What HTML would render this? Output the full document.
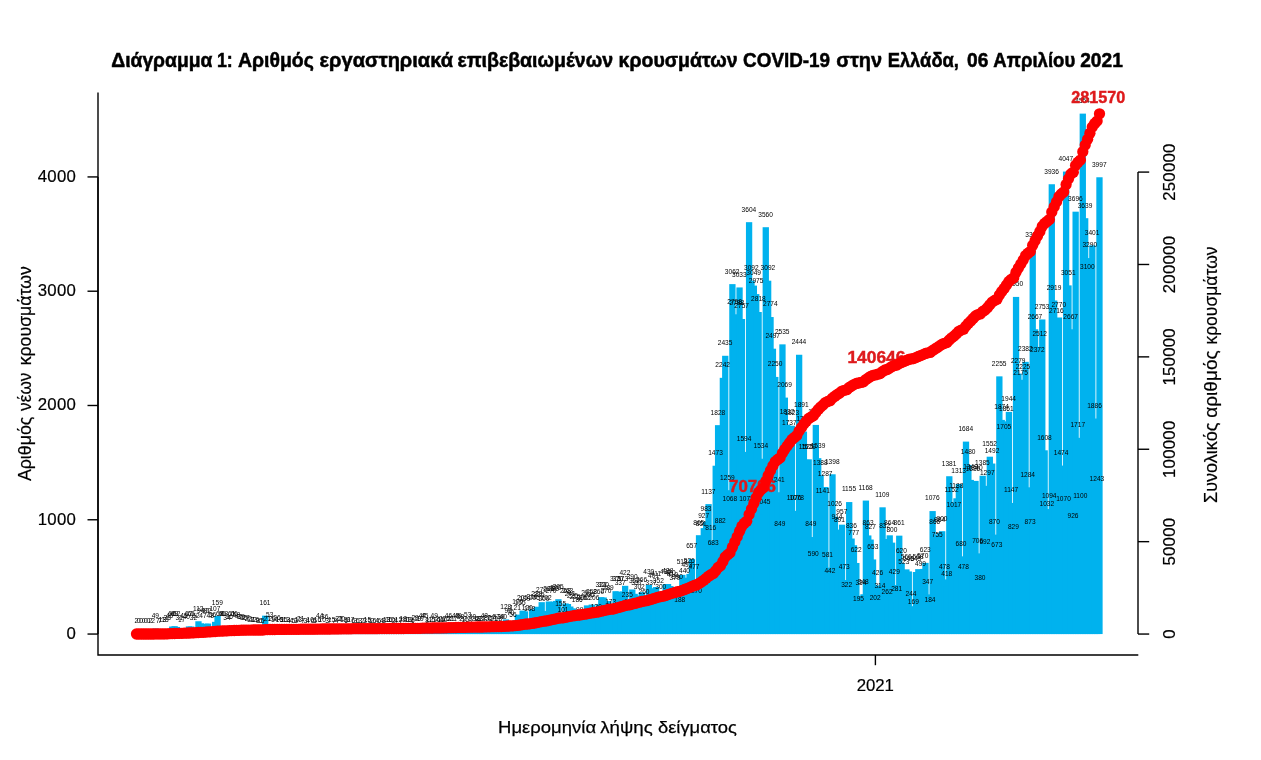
<!DOCTYPE html>
<html lang="el"><head><meta charset="utf-8"><title>Διάγραμμα 1</title>
<style>html,body{margin:0;padding:0;background:#fff;overflow:hidden}svg{display:block}text{font-family:"Liberation Sans",sans-serif;fill:#000}.t{font-size:7.2px;text-anchor:middle;fill:#161616}.ax{font-size:16.8px}.tt{font-size:17px;stroke:#000;stroke-width:0.25px}.tr{font-size:18.2px;stroke:#000;stroke-width:0.2px}.ax{stroke:#000;stroke-width:0.2px}.r{font-weight:bold;fill:#de1a1c;stroke:#de1a1c;stroke-width:0.45px;font-size:16.6px;text-anchor:middle}</style></head><body>
<svg width="1261" height="760" viewBox="0 0 1261 760">
<rect width="1261" height="760" fill="#fff"/>
<text y="66.7" font-size="19.4" font-weight="bold" stroke="#000" stroke-width="0.5"><tspan x="111.3" textLength="101.1" lengthAdjust="spacingAndGlyphs">Διάγραμμα</tspan> <tspan x="216.9" textLength="15.8" lengthAdjust="spacingAndGlyphs">1:</tspan> <tspan x="237.9" textLength="76.0" lengthAdjust="spacingAndGlyphs">Αριθμός</tspan> <tspan x="319.6" textLength="133.4" lengthAdjust="spacingAndGlyphs">εργαστηριακά</tspan> <tspan x="457.4" textLength="155.6" lengthAdjust="spacingAndGlyphs">επιβεβαιωμένων</tspan> <tspan x="618.6" textLength="118.9" lengthAdjust="spacingAndGlyphs">κρουσμάτων</tspan> <tspan x="743.1" textLength="87.0" lengthAdjust="spacingAndGlyphs">COVID-19</tspan> <tspan x="836.3" textLength="45.8" lengthAdjust="spacingAndGlyphs">στην</tspan> <tspan x="887.7" textLength="71.2" lengthAdjust="spacingAndGlyphs">Ελλάδα,</tspan> <tspan x="967.0" textLength="21.3" lengthAdjust="spacingAndGlyphs">06</tspan> <tspan x="993.3" textLength="81.9" lengthAdjust="spacingAndGlyphs">Απριλίου</tspan> <tspan x="1080.2" textLength="42.6" lengthAdjust="spacingAndGlyphs">2021</tspan></text>
<g fill="#00b2ee" shape-rendering="auto">
<rect x="133.35" y="633.82" width="6.30" height="0.23"/>
<rect x="147.65" y="633.82" width="6.30" height="0.23"/>
<rect x="150.04" y="633.82" width="6.30" height="0.23"/>
<rect x="152.42" y="628.45" width="6.30" height="5.60"/>
<rect x="154.80" y="633.25" width="6.30" height="0.80"/>
<rect x="157.19" y="633.25" width="6.30" height="0.80"/>
<rect x="159.57" y="632.56" width="6.30" height="1.49"/>
<rect x="161.95" y="632.56" width="6.30" height="1.49"/>
<rect x="164.34" y="630.28" width="6.30" height="3.77"/>
<rect x="166.72" y="628.91" width="6.30" height="5.14"/>
<rect x="169.10" y="626.51" width="6.30" height="7.54"/>
<rect x="171.49" y="626.16" width="6.30" height="7.89"/>
<rect x="173.87" y="626.96" width="6.30" height="7.09"/>
<rect x="176.25" y="630.51" width="6.30" height="3.54"/>
<rect x="178.64" y="632.11" width="6.30" height="1.94"/>
<rect x="181.02" y="628.91" width="6.30" height="5.14"/>
<rect x="183.41" y="629.48" width="6.30" height="4.57"/>
<rect x="185.79" y="626.39" width="6.30" height="7.66"/>
<rect x="188.17" y="626.51" width="6.30" height="7.54"/>
<rect x="190.56" y="630.39" width="6.30" height="3.66"/>
<rect x="192.94" y="628.11" width="6.30" height="5.94"/>
<rect x="195.32" y="621.25" width="6.30" height="12.80"/>
<rect x="197.71" y="623.31" width="6.30" height="10.74"/>
<rect x="200.09" y="628.68" width="6.30" height="5.37"/>
<rect x="202.47" y="623.76" width="6.30" height="10.29"/>
<rect x="204.86" y="623.54" width="6.30" height="10.51"/>
<rect x="207.24" y="628.56" width="6.30" height="5.49"/>
<rect x="209.63" y="627.65" width="6.30" height="6.40"/>
<rect x="212.01" y="621.82" width="6.30" height="12.23"/>
<rect x="214.39" y="615.88" width="6.30" height="18.17"/>
<rect x="216.78" y="626.28" width="6.30" height="7.77"/>
<rect x="219.16" y="626.51" width="6.30" height="7.54"/>
<rect x="221.54" y="626.28" width="6.30" height="7.77"/>
<rect x="223.93" y="630.16" width="6.30" height="3.89"/>
<rect x="226.31" y="629.94" width="6.30" height="4.11"/>
<rect x="228.69" y="627.08" width="6.30" height="6.97"/>
<rect x="231.08" y="626.51" width="6.30" height="7.54"/>
<rect x="233.46" y="627.42" width="6.30" height="6.63"/>
<rect x="235.84" y="629.25" width="6.30" height="4.80"/>
<rect x="238.23" y="629.59" width="6.30" height="4.46"/>
<rect x="240.61" y="630.62" width="6.30" height="3.43"/>
<rect x="243.00" y="630.96" width="6.30" height="3.09"/>
<rect x="245.38" y="631.54" width="6.30" height="2.51"/>
<rect x="247.76" y="632.11" width="6.30" height="1.94"/>
<rect x="250.15" y="632.68" width="6.30" height="1.37"/>
<rect x="252.53" y="632.22" width="6.30" height="1.83"/>
<rect x="254.91" y="633.14" width="6.30" height="0.91"/>
<rect x="257.30" y="633.36" width="6.30" height="0.69"/>
<rect x="259.68" y="633.48" width="6.30" height="0.57"/>
<rect x="262.06" y="615.65" width="6.30" height="18.40"/>
<rect x="264.45" y="631.65" width="6.30" height="2.40"/>
<rect x="266.83" y="627.99" width="6.30" height="6.06"/>
<rect x="269.22" y="631.76" width="6.30" height="2.29"/>
<rect x="271.60" y="632.45" width="6.30" height="1.60"/>
<rect x="273.98" y="631.08" width="6.30" height="2.97"/>
<rect x="276.37" y="632.22" width="6.30" height="1.83"/>
<rect x="278.75" y="633.02" width="6.30" height="1.03"/>
<rect x="281.13" y="632.34" width="6.30" height="1.71"/>
<rect x="283.52" y="632.56" width="6.30" height="1.49"/>
<rect x="285.90" y="633.59" width="6.30" height="0.46"/>
<rect x="288.28" y="633.59" width="6.30" height="0.46"/>
<rect x="290.67" y="633.48" width="6.30" height="0.57"/>
<rect x="293.05" y="633.71" width="6.30" height="0.34"/>
<rect x="295.43" y="632.56" width="6.30" height="1.49"/>
<rect x="297.82" y="631.65" width="6.30" height="2.40"/>
<rect x="300.20" y="633.25" width="6.30" height="0.80"/>
<rect x="302.59" y="633.71" width="6.30" height="0.34"/>
<rect x="304.97" y="633.59" width="6.30" height="0.46"/>
<rect x="307.35" y="632.91" width="6.30" height="1.14"/>
<rect x="309.74" y="633.36" width="6.30" height="0.69"/>
<rect x="312.12" y="633.48" width="6.30" height="0.57"/>
<rect x="314.50" y="632.22" width="6.30" height="1.83"/>
<rect x="316.89" y="629.02" width="6.30" height="5.03"/>
<rect x="319.27" y="632.91" width="6.30" height="1.14"/>
<rect x="321.65" y="629.94" width="6.30" height="4.11"/>
<rect x="324.04" y="633.71" width="6.30" height="0.34"/>
<rect x="326.42" y="633.25" width="6.30" height="0.80"/>
<rect x="328.81" y="632.34" width="6.30" height="1.71"/>
<rect x="331.19" y="633.25" width="6.30" height="0.80"/>
<rect x="333.57" y="633.59" width="6.30" height="0.46"/>
<rect x="335.96" y="631.54" width="6.30" height="2.51"/>
<rect x="338.34" y="631.76" width="6.30" height="2.29"/>
<rect x="340.72" y="632.56" width="6.30" height="1.49"/>
<rect x="343.11" y="633.36" width="6.30" height="0.69"/>
<rect x="345.49" y="633.02" width="6.30" height="1.03"/>
<rect x="347.87" y="632.11" width="6.30" height="1.94"/>
<rect x="350.26" y="633.36" width="6.30" height="0.69"/>
<rect x="352.64" y="633.71" width="6.30" height="0.34"/>
<rect x="355.02" y="633.36" width="6.30" height="0.69"/>
<rect x="357.41" y="633.71" width="6.30" height="0.34"/>
<rect x="359.79" y="633.82" width="6.30" height="0.23"/>
<rect x="362.18" y="633.71" width="6.30" height="0.34"/>
<rect x="364.56" y="632.34" width="6.30" height="1.71"/>
<rect x="366.94" y="633.48" width="6.30" height="0.57"/>
<rect x="369.33" y="633.82" width="6.30" height="0.23"/>
<rect x="371.71" y="633.36" width="6.30" height="0.69"/>
<rect x="374.09" y="633.59" width="6.30" height="0.46"/>
<rect x="376.48" y="633.36" width="6.30" height="0.69"/>
<rect x="378.86" y="633.59" width="6.30" height="0.46"/>
<rect x="381.24" y="633.14" width="6.30" height="0.91"/>
<rect x="383.63" y="632.56" width="6.30" height="1.49"/>
<rect x="386.01" y="632.22" width="6.30" height="1.83"/>
<rect x="388.40" y="632.91" width="6.30" height="1.14"/>
<rect x="390.78" y="633.82" width="6.30" height="0.23"/>
<rect x="393.16" y="633.59" width="6.30" height="0.46"/>
<rect x="395.55" y="632.68" width="6.30" height="1.37"/>
<rect x="397.93" y="633.25" width="6.30" height="0.80"/>
<rect x="400.31" y="631.99" width="6.30" height="2.06"/>
<rect x="402.70" y="632.91" width="6.30" height="1.14"/>
<rect x="405.08" y="632.56" width="6.30" height="1.49"/>
<rect x="407.46" y="632.79" width="6.30" height="1.26"/>
<rect x="409.85" y="633.36" width="6.30" height="0.69"/>
<rect x="412.23" y="630.74" width="6.30" height="3.31"/>
<rect x="414.61" y="631.88" width="6.30" height="2.17"/>
<rect x="417.00" y="631.88" width="6.30" height="2.17"/>
<rect x="419.38" y="629.02" width="6.30" height="5.03"/>
<rect x="421.77" y="628.91" width="6.30" height="5.14"/>
<rect x="424.15" y="633.14" width="6.30" height="0.91"/>
<rect x="426.53" y="632.68" width="6.30" height="1.37"/>
<rect x="428.92" y="632.34" width="6.30" height="1.71"/>
<rect x="431.30" y="628.45" width="6.30" height="5.60"/>
<rect x="433.68" y="632.22" width="6.30" height="1.83"/>
<rect x="436.07" y="631.54" width="6.30" height="2.51"/>
<rect x="438.45" y="632.22" width="6.30" height="1.83"/>
<rect x="440.83" y="632.91" width="6.30" height="1.14"/>
<rect x="443.22" y="631.19" width="6.30" height="2.86"/>
<rect x="445.60" y="628.79" width="6.30" height="5.26"/>
<rect x="447.99" y="631.65" width="6.30" height="2.40"/>
<rect x="450.37" y="631.65" width="6.30" height="2.40"/>
<rect x="452.75" y="628.56" width="6.30" height="5.49"/>
<rect x="455.14" y="628.45" width="6.30" height="5.60"/>
<rect x="457.52" y="629.71" width="6.30" height="4.34"/>
<rect x="459.90" y="631.54" width="6.30" height="2.51"/>
<rect x="462.29" y="632.22" width="6.30" height="1.83"/>
<rect x="464.67" y="627.99" width="6.30" height="6.06"/>
<rect x="467.05" y="633.14" width="6.30" height="0.91"/>
<rect x="469.44" y="629.48" width="6.30" height="4.57"/>
<rect x="471.82" y="631.31" width="6.30" height="2.74"/>
<rect x="474.20" y="631.99" width="6.30" height="2.06"/>
<rect x="476.59" y="631.42" width="6.30" height="2.63"/>
<rect x="478.97" y="631.42" width="6.30" height="2.63"/>
<rect x="481.36" y="628.56" width="6.30" height="5.49"/>
<rect x="483.74" y="630.96" width="6.30" height="3.09"/>
<rect x="486.12" y="631.54" width="6.30" height="2.51"/>
<rect x="488.51" y="630.96" width="6.30" height="3.09"/>
<rect x="490.89" y="631.65" width="6.30" height="2.40"/>
<rect x="493.27" y="629.82" width="6.30" height="4.23"/>
<rect x="495.66" y="631.99" width="6.30" height="2.06"/>
<rect x="498.04" y="629.59" width="6.30" height="4.46"/>
<rect x="500.42" y="629.48" width="6.30" height="4.57"/>
<rect x="502.81" y="619.42" width="6.30" height="14.63"/>
<rect x="505.19" y="623.19" width="6.30" height="10.86"/>
<rect x="507.58" y="626.05" width="6.30" height="8.00"/>
<rect x="509.96" y="627.65" width="6.30" height="6.40"/>
<rect x="512.34" y="620.22" width="6.30" height="13.83"/>
<rect x="514.73" y="614.62" width="6.30" height="19.43"/>
<rect x="517.11" y="615.19" width="6.30" height="18.86"/>
<rect x="519.49" y="610.62" width="6.30" height="23.43"/>
<rect x="521.88" y="611.31" width="6.30" height="22.74"/>
<rect x="524.26" y="620.34" width="6.30" height="13.71"/>
<rect x="526.64" y="621.71" width="6.30" height="12.34"/>
<rect x="529.03" y="609.37" width="6.30" height="24.68"/>
<rect x="531.41" y="610.62" width="6.30" height="23.43"/>
<rect x="533.79" y="606.74" width="6.30" height="27.31"/>
<rect x="536.18" y="607.19" width="6.30" height="26.86"/>
<rect x="538.56" y="602.17" width="6.30" height="31.88"/>
<rect x="540.95" y="611.19" width="6.30" height="22.86"/>
<rect x="543.33" y="610.97" width="6.30" height="23.08"/>
<rect x="545.71" y="601.48" width="6.30" height="32.57"/>
<rect x="548.10" y="603.19" width="6.30" height="30.86"/>
<rect x="550.48" y="601.71" width="6.30" height="32.34"/>
<rect x="552.86" y="600.91" width="6.30" height="33.14"/>
<rect x="555.25" y="599.19" width="6.30" height="34.86"/>
<rect x="557.63" y="616.34" width="6.30" height="17.71"/>
<rect x="560.01" y="622.51" width="6.30" height="11.54"/>
<rect x="562.40" y="603.42" width="6.30" height="30.63"/>
<rect x="564.78" y="603.99" width="6.30" height="30.06"/>
<rect x="567.17" y="606.51" width="6.30" height="27.54"/>
<rect x="569.55" y="608.34" width="6.30" height="25.71"/>
<rect x="571.93" y="609.48" width="6.30" height="24.57"/>
<rect x="574.32" y="612.79" width="6.30" height="21.26"/>
<rect x="576.70" y="622.74" width="6.30" height="11.31"/>
<rect x="579.08" y="610.51" width="6.30" height="23.54"/>
<rect x="581.47" y="610.97" width="6.30" height="23.08"/>
<rect x="583.85" y="605.37" width="6.30" height="28.68"/>
<rect x="586.23" y="607.19" width="6.30" height="26.86"/>
<rect x="588.62" y="604.57" width="6.30" height="29.48"/>
<rect x="591.00" y="610.51" width="6.30" height="23.54"/>
<rect x="593.38" y="619.19" width="6.30" height="14.86"/>
<rect x="595.77" y="604.34" width="6.30" height="29.71"/>
<rect x="598.15" y="597.14" width="6.30" height="36.91"/>
<rect x="600.54" y="597.48" width="6.30" height="36.57"/>
<rect x="602.92" y="603.19" width="6.30" height="30.86"/>
<rect x="605.30" y="601.02" width="6.30" height="33.03"/>
<rect x="607.69" y="614.28" width="6.30" height="19.77"/>
<rect x="610.07" y="619.19" width="6.30" height="14.86"/>
<rect x="612.45" y="591.19" width="6.30" height="42.86"/>
<rect x="614.84" y="591.77" width="6.30" height="42.28"/>
<rect x="617.22" y="595.54" width="6.30" height="38.51"/>
<rect x="619.60" y="591.42" width="6.30" height="42.63"/>
<rect x="621.99" y="585.82" width="6.30" height="48.23"/>
<rect x="624.37" y="607.19" width="6.30" height="26.86"/>
<rect x="626.76" y="614.62" width="6.30" height="19.43"/>
<rect x="629.14" y="589.48" width="6.30" height="44.57"/>
<rect x="631.52" y="593.82" width="6.30" height="40.23"/>
<rect x="633.91" y="595.54" width="6.30" height="38.51"/>
<rect x="636.29" y="599.54" width="6.30" height="34.51"/>
<rect x="638.67" y="592.22" width="6.30" height="41.83"/>
<rect x="641.06" y="604.34" width="6.30" height="29.71"/>
<rect x="643.44" y="612.34" width="6.30" height="21.71"/>
<rect x="645.82" y="584.91" width="6.30" height="49.14"/>
<rect x="648.21" y="595.54" width="6.30" height="38.51"/>
<rect x="650.59" y="588.22" width="6.30" height="45.83"/>
<rect x="652.97" y="587.08" width="6.30" height="46.97"/>
<rect x="655.36" y="593.82" width="6.30" height="40.23"/>
<rect x="657.74" y="599.77" width="6.30" height="34.28"/>
<rect x="660.13" y="610.05" width="6.30" height="24.00"/>
<rect x="662.51" y="584.22" width="6.30" height="49.83"/>
<rect x="664.89" y="584.00" width="6.30" height="50.05"/>
<rect x="667.28" y="586.05" width="6.30" height="48.00"/>
<rect x="669.66" y="587.20" width="6.30" height="46.85"/>
<rect x="672.04" y="590.74" width="6.30" height="43.31"/>
<rect x="674.43" y="589.48" width="6.30" height="44.57"/>
<rect x="676.81" y="612.57" width="6.30" height="21.48"/>
<rect x="679.19" y="574.85" width="6.30" height="59.20"/>
<rect x="681.58" y="583.77" width="6.30" height="50.28"/>
<rect x="683.96" y="577.71" width="6.30" height="56.34"/>
<rect x="686.35" y="573.94" width="6.30" height="60.11"/>
<rect x="688.73" y="558.97" width="6.30" height="75.08"/>
<rect x="691.11" y="579.54" width="6.30" height="54.51"/>
<rect x="693.50" y="603.19" width="6.30" height="30.86"/>
<rect x="695.88" y="535.20" width="6.30" height="98.85"/>
<rect x="698.26" y="536.80" width="6.30" height="97.25"/>
<rect x="700.65" y="528.11" width="6.30" height="105.94"/>
<rect x="703.03" y="521.71" width="6.30" height="112.34"/>
<rect x="705.41" y="504.11" width="6.30" height="129.94"/>
<rect x="707.80" y="540.80" width="6.30" height="93.25"/>
<rect x="710.18" y="556.00" width="6.30" height="78.05"/>
<rect x="712.56" y="465.72" width="6.30" height="168.33"/>
<rect x="714.95" y="425.15" width="6.30" height="208.90"/>
<rect x="717.33" y="533.26" width="6.30" height="100.79"/>
<rect x="719.72" y="377.83" width="6.30" height="256.22"/>
<rect x="722.10" y="355.78" width="6.30" height="278.27"/>
<rect x="724.48" y="490.17" width="6.30" height="143.88"/>
<rect x="726.87" y="512.00" width="6.30" height="122.05"/>
<rect x="729.25" y="284.12" width="6.30" height="349.93"/>
<rect x="731.63" y="314.29" width="6.30" height="319.76"/>
<rect x="734.02" y="315.44" width="6.30" height="318.61"/>
<rect x="736.40" y="287.44" width="6.30" height="346.61"/>
<rect x="738.78" y="318.98" width="6.30" height="315.07"/>
<rect x="741.17" y="451.89" width="6.30" height="182.16"/>
<rect x="743.55" y="511.43" width="6.30" height="122.62"/>
<rect x="745.94" y="222.18" width="6.30" height="411.87"/>
<rect x="748.32" y="280.70" width="6.30" height="353.35"/>
<rect x="750.70" y="285.61" width="6.30" height="348.44"/>
<rect x="753.09" y="294.07" width="6.30" height="339.98"/>
<rect x="755.47" y="312.01" width="6.30" height="322.04"/>
<rect x="757.85" y="458.74" width="6.30" height="175.31"/>
<rect x="760.24" y="514.63" width="6.30" height="119.42"/>
<rect x="762.62" y="227.21" width="6.30" height="406.84"/>
<rect x="765.00" y="280.70" width="6.30" height="353.35"/>
<rect x="767.39" y="317.04" width="6.30" height="317.01"/>
<rect x="769.77" y="348.69" width="6.30" height="285.36"/>
<rect x="772.15" y="376.92" width="6.30" height="257.13"/>
<rect x="774.54" y="492.23" width="6.30" height="141.82"/>
<rect x="776.92" y="537.03" width="6.30" height="97.02"/>
<rect x="779.31" y="344.35" width="6.30" height="289.70"/>
<rect x="781.69" y="397.60" width="6.30" height="236.45"/>
<rect x="784.07" y="424.69" width="6.30" height="209.36"/>
<rect x="786.46" y="435.55" width="6.30" height="198.50"/>
<rect x="788.84" y="425.72" width="6.30" height="208.33"/>
<rect x="791.22" y="511.08" width="6.30" height="122.97"/>
<rect x="793.61" y="510.86" width="6.30" height="123.19"/>
<rect x="795.99" y="354.75" width="6.30" height="279.30"/>
<rect x="798.37" y="417.95" width="6.30" height="216.10"/>
<rect x="800.76" y="431.55" width="6.30" height="202.50"/>
<rect x="803.14" y="459.77" width="6.30" height="174.28"/>
<rect x="805.53" y="459.32" width="6.30" height="174.73"/>
<rect x="807.91" y="537.03" width="6.30" height="97.02"/>
<rect x="810.29" y="566.62" width="6.30" height="67.43"/>
<rect x="812.68" y="424.92" width="6.30" height="209.13"/>
<rect x="815.06" y="458.17" width="6.30" height="175.88"/>
<rect x="817.44" y="475.43" width="6.30" height="158.62"/>
<rect x="819.83" y="503.66" width="6.30" height="130.39"/>
<rect x="822.21" y="486.97" width="6.30" height="147.08"/>
<rect x="824.59" y="567.65" width="6.30" height="66.40"/>
<rect x="826.98" y="583.54" width="6.30" height="50.51"/>
<rect x="829.36" y="474.29" width="6.30" height="159.76"/>
<rect x="831.74" y="516.80" width="6.30" height="117.25"/>
<rect x="834.13" y="529.60" width="6.30" height="104.45"/>
<rect x="836.51" y="532.23" width="6.30" height="101.82"/>
<rect x="838.90" y="524.68" width="6.30" height="109.37"/>
<rect x="841.28" y="580.00" width="6.30" height="54.05"/>
<rect x="843.66" y="597.25" width="6.30" height="36.80"/>
<rect x="846.05" y="502.06" width="6.30" height="131.99"/>
<rect x="848.43" y="538.51" width="6.30" height="95.54"/>
<rect x="850.81" y="545.25" width="6.30" height="88.80"/>
<rect x="853.20" y="562.97" width="6.30" height="71.08"/>
<rect x="855.58" y="611.77" width="6.30" height="22.28"/>
<rect x="857.96" y="595.88" width="6.30" height="38.17"/>
<rect x="860.35" y="594.28" width="6.30" height="39.77"/>
<rect x="862.73" y="500.57" width="6.30" height="133.48"/>
<rect x="865.12" y="535.43" width="6.30" height="98.62"/>
<rect x="867.50" y="539.54" width="6.30" height="94.51"/>
<rect x="869.88" y="559.43" width="6.30" height="74.62"/>
<rect x="872.27" y="610.97" width="6.30" height="23.08"/>
<rect x="874.65" y="585.37" width="6.30" height="48.68"/>
<rect x="877.03" y="598.17" width="6.30" height="35.88"/>
<rect x="879.42" y="507.31" width="6.30" height="126.74"/>
<rect x="881.80" y="538.97" width="6.30" height="95.08"/>
<rect x="884.18" y="604.11" width="6.30" height="29.94"/>
<rect x="886.57" y="535.31" width="6.30" height="98.74"/>
<rect x="888.95" y="542.63" width="6.30" height="91.42"/>
<rect x="891.33" y="585.02" width="6.30" height="49.03"/>
<rect x="893.72" y="601.94" width="6.30" height="32.11"/>
<rect x="896.10" y="535.65" width="6.30" height="98.40"/>
<rect x="898.49" y="563.20" width="6.30" height="70.85"/>
<rect x="900.87" y="574.28" width="6.30" height="59.77"/>
<rect x="903.25" y="569.37" width="6.30" height="64.68"/>
<rect x="905.64" y="571.42" width="6.30" height="62.63"/>
<rect x="908.02" y="606.17" width="6.30" height="27.88"/>
<rect x="910.40" y="614.74" width="6.30" height="19.31"/>
<rect x="912.79" y="572.00" width="6.30" height="62.05"/>
<rect x="915.17" y="569.14" width="6.30" height="64.91"/>
<rect x="917.55" y="577.02" width="6.30" height="57.03"/>
<rect x="919.94" y="568.91" width="6.30" height="65.14"/>
<rect x="922.32" y="562.85" width="6.30" height="71.20"/>
<rect x="924.71" y="594.39" width="6.30" height="39.66"/>
<rect x="927.09" y="613.02" width="6.30" height="21.03"/>
<rect x="929.47" y="511.08" width="6.30" height="122.97"/>
<rect x="931.86" y="535.08" width="6.30" height="98.97"/>
<rect x="934.24" y="547.77" width="6.30" height="86.28"/>
<rect x="936.62" y="533.03" width="6.30" height="101.02"/>
<rect x="939.01" y="531.20" width="6.30" height="102.85"/>
<rect x="941.39" y="579.42" width="6.30" height="54.63"/>
<rect x="943.77" y="586.28" width="6.30" height="47.77"/>
<rect x="946.16" y="476.23" width="6.30" height="157.82"/>
<rect x="948.54" y="502.40" width="6.30" height="131.65"/>
<rect x="950.92" y="517.83" width="6.30" height="116.22"/>
<rect x="953.31" y="498.29" width="6.30" height="135.76"/>
<rect x="955.69" y="484.00" width="6.30" height="150.05"/>
<rect x="958.08" y="556.34" width="6.30" height="77.71"/>
<rect x="960.46" y="579.42" width="6.30" height="54.63"/>
<rect x="962.84" y="441.60" width="6.30" height="192.45"/>
<rect x="965.23" y="464.92" width="6.30" height="169.13"/>
<rect x="967.61" y="479.89" width="6.30" height="154.16"/>
<rect x="969.99" y="481.37" width="6.30" height="152.68"/>
<rect x="972.38" y="480.91" width="6.30" height="153.14"/>
<rect x="974.76" y="553.37" width="6.30" height="80.68"/>
<rect x="977.14" y="590.62" width="6.30" height="43.43"/>
<rect x="979.53" y="475.77" width="6.30" height="158.28"/>
<rect x="981.91" y="554.97" width="6.30" height="79.08"/>
<rect x="984.30" y="485.83" width="6.30" height="148.22"/>
<rect x="986.68" y="456.69" width="6.30" height="177.36"/>
<rect x="989.06" y="463.54" width="6.30" height="170.51"/>
<rect x="991.45" y="534.63" width="6.30" height="99.42"/>
<rect x="993.83" y="557.14" width="6.30" height="76.91"/>
<rect x="996.21" y="376.35" width="6.30" height="257.70"/>
<rect x="998.60" y="419.89" width="6.30" height="214.16"/>
<rect x="1000.98" y="439.20" width="6.30" height="194.85"/>
<rect x="1003.36" y="421.37" width="6.30" height="212.68"/>
<rect x="1005.75" y="411.89" width="6.30" height="222.16"/>
<rect x="1008.13" y="502.97" width="6.30" height="131.08"/>
<rect x="1010.51" y="539.31" width="6.30" height="94.74"/>
<rect x="1012.90" y="296.92" width="6.30" height="337.13"/>
<rect x="1015.28" y="373.61" width="6.30" height="260.44"/>
<rect x="1017.67" y="385.49" width="6.30" height="248.56"/>
<rect x="1020.05" y="379.78" width="6.30" height="254.27"/>
<rect x="1022.43" y="361.84" width="6.30" height="272.21"/>
<rect x="1024.82" y="487.31" width="6.30" height="146.74"/>
<rect x="1027.20" y="534.28" width="6.30" height="99.77"/>
<rect x="1029.58" y="247.78" width="6.30" height="386.27"/>
<rect x="1031.97" y="329.27" width="6.30" height="304.78"/>
<rect x="1034.35" y="362.98" width="6.30" height="271.07"/>
<rect x="1036.73" y="346.98" width="6.30" height="287.07"/>
<rect x="1039.12" y="319.44" width="6.30" height="314.61"/>
<rect x="1041.50" y="450.29" width="6.30" height="183.76"/>
<rect x="1043.89" y="516.11" width="6.30" height="117.94"/>
<rect x="1046.27" y="509.03" width="6.30" height="125.02"/>
<rect x="1048.65" y="184.24" width="6.30" height="449.81"/>
<rect x="1051.04" y="300.47" width="6.30" height="333.58"/>
<rect x="1053.42" y="323.67" width="6.30" height="310.38"/>
<rect x="1055.80" y="317.49" width="6.30" height="316.56"/>
<rect x="1058.19" y="465.60" width="6.30" height="168.45"/>
<rect x="1060.57" y="511.77" width="6.30" height="122.28"/>
<rect x="1062.95" y="171.56" width="6.30" height="462.49"/>
<rect x="1065.34" y="285.38" width="6.30" height="348.67"/>
<rect x="1067.72" y="329.27" width="6.30" height="304.78"/>
<rect x="1070.10" y="528.23" width="6.30" height="105.82"/>
<rect x="1072.49" y="211.67" width="6.30" height="422.38"/>
<rect x="1074.87" y="437.83" width="6.30" height="196.22"/>
<rect x="1077.26" y="508.34" width="6.30" height="125.71"/>
<rect x="1079.64" y="113.62" width="6.30" height="520.43"/>
<rect x="1082.02" y="218.19" width="6.30" height="415.86"/>
<rect x="1084.41" y="279.78" width="6.30" height="354.27"/>
<rect x="1086.79" y="258.07" width="6.30" height="375.98"/>
<rect x="1089.17" y="245.38" width="6.30" height="388.67"/>
<rect x="1091.56" y="418.52" width="6.30" height="215.53"/>
<rect x="1093.94" y="492.00" width="6.30" height="142.05"/>
<rect x="1096.32" y="177.27" width="6.30" height="456.78"/>
</g>
<g stroke="#000" stroke-width="1.4" fill="none">
<path d="M98 92.6 V655 H1138.3"/>
<path d="M1138 172.09 V634.05"/>
<path d="M1138 634.05 H1149.2"/>
<path d="M1138 541.66 H1149.2"/>
<path d="M1138 449.26 H1149.2"/>
<path d="M1138 356.87 H1149.2"/>
<path d="M1138 264.48 H1149.2"/>
<path d="M1138 172.09 H1149.2"/>
</g>
<g stroke="#000" stroke-width="1.4" fill="none">
<path d="M98 176.93 V634.05"/>
<path d="M87.5 634.05 H98"/>
<path d="M87.5 519.77 H98"/>
<path d="M87.5 405.49 H98"/>
<path d="M87.5 291.21 H98"/>
<path d="M87.5 176.93 H98"/>
<path d="M875.4 655 V665.2"/>
</g>
<text class="ax" x="76.2" y="639.05" text-anchor="end" letter-spacing="0.3">0</text>
<text class="ax" x="76.2" y="524.77" text-anchor="end" letter-spacing="0.3">1000</text>
<text class="ax" x="76.2" y="410.49" text-anchor="end" letter-spacing="0.3">2000</text>
<text class="ax" x="76.2" y="296.21" text-anchor="end" letter-spacing="0.3">3000</text>
<text class="ax" x="76.2" y="181.93" text-anchor="end" letter-spacing="0.3">4000</text>
<text class="ax" text-anchor="middle" letter-spacing="0.25" transform="translate(1174.8 634.05) rotate(-90)">0</text>
<text class="ax" text-anchor="middle" letter-spacing="0.25" transform="translate(1174.8 541.66) rotate(-90)">50000</text>
<text class="ax" text-anchor="middle" letter-spacing="0.25" transform="translate(1174.8 449.26) rotate(-90)">100000</text>
<text class="ax" text-anchor="middle" letter-spacing="0.25" transform="translate(1174.8 356.87) rotate(-90)">150000</text>
<text class="ax" text-anchor="middle" letter-spacing="0.25" transform="translate(1174.8 264.48) rotate(-90)">200000</text>
<text class="ax" text-anchor="middle" letter-spacing="0.25" transform="translate(1174.8 172.09) rotate(-90)">250000</text>
<text class="ax" x="875.3" y="690.6" text-anchor="middle">2021</text>
<text class="tt" y="732.9"><tspan x="498.1" textLength="98.0" lengthAdjust="spacingAndGlyphs">Ημερομηνία</tspan> <tspan x="600.2" textLength="52.5" lengthAdjust="spacingAndGlyphs">λήψης</tspan> <tspan x="657.9" textLength="79.1" lengthAdjust="spacingAndGlyphs">δείγματος</tspan></text>
<text class="tr" transform="translate(31.4 481.1) rotate(-90)"><tspan x="0.0" textLength="64.5" lengthAdjust="spacingAndGlyphs">Αριθμός</tspan> <tspan x="70.2" textLength="38.4" lengthAdjust="spacingAndGlyphs">νέων</tspan> <tspan x="115.8" textLength="99.2" lengthAdjust="spacingAndGlyphs">κρουσμάτων</tspan></text>
<text class="tr" transform="translate(1217.4 503.0) rotate(-90)"><tspan x="0.0" textLength="80.4" lengthAdjust="spacingAndGlyphs">Συνολικός</tspan> <tspan x="85.2" textLength="67.5" lengthAdjust="spacingAndGlyphs">αριθμός</tspan> <tspan x="158.4" textLength="98.2" lengthAdjust="spacingAndGlyphs">κρουσμάτων</tspan></text>
<g class="t" transform="scale(0.915 1)">
<text x="149.0" y="623.3">2</text>
<text x="151.6" y="623.5">0</text>
<text x="154.2" y="623.5">0</text>
<text x="156.8" y="623.5">0</text>
<text x="159.4" y="623.5">0</text>
<text x="162.0" y="623.5">0</text>
<text x="164.6" y="623.3">2</text>
<text x="167.2" y="623.3">2</text>
<text x="169.8" y="617.9">49</text>
<text x="172.4" y="622.7">7</text>
<text x="175.0" y="622.7">7</text>
<text x="177.6" y="622.0">13</text>
<text x="180.2" y="622.0">13</text>
<text x="182.8" y="619.7">33</text>
<text x="185.4" y="618.4">45</text>
<text x="188.0" y="616.0">66</text>
<text x="190.6" y="615.6">69</text>
<text x="193.2" y="616.4">62</text>
<text x="195.9" y="620.0">31</text>
<text x="198.5" y="621.6">17</text>
<text x="201.1" y="618.4">45</text>
<text x="203.7" y="618.9">40</text>
<text x="206.3" y="615.8">67</text>
<text x="208.9" y="616.0">66</text>
<text x="211.5" y="619.8">32</text>
<text x="214.1" y="617.6">52</text>
<text x="216.7" y="610.7">112</text>
<text x="219.3" y="612.8">94</text>
<text x="221.9" y="618.1">47</text>
<text x="224.5" y="613.2">90</text>
<text x="227.1" y="613.0">92</text>
<text x="229.7" y="618.0">48</text>
<text x="232.3" y="617.1">56</text>
<text x="234.9" y="611.3">107</text>
<text x="237.5" y="605.3">159</text>
<text x="240.1" y="615.7">68</text>
<text x="242.7" y="616.0">66</text>
<text x="245.3" y="615.7">68</text>
<text x="248.0" y="619.6">34</text>
<text x="250.6" y="619.4">36</text>
<text x="253.2" y="616.5">61</text>
<text x="255.8" y="616.0">66</text>
<text x="258.4" y="616.9">58</text>
<text x="261.0" y="618.7">42</text>
<text x="263.6" y="619.0">39</text>
<text x="266.2" y="620.1">30</text>
<text x="268.8" y="620.4">27</text>
<text x="271.4" y="621.0">22</text>
<text x="274.0" y="621.6">17</text>
<text x="276.6" y="622.1">12</text>
<text x="279.2" y="621.7">16</text>
<text x="281.8" y="622.6">8</text>
<text x="284.4" y="622.8">6</text>
<text x="287.0" y="622.9">5</text>
<text x="289.6" y="605.1">161</text>
<text x="292.2" y="621.1">21</text>
<text x="294.8" y="617.4">53</text>
<text x="297.4" y="621.2">20</text>
<text x="300.1" y="621.9">14</text>
<text x="302.7" y="620.5">26</text>
<text x="305.3" y="621.7">16</text>
<text x="307.9" y="622.5">9</text>
<text x="310.5" y="621.8">15</text>
<text x="313.1" y="622.0">13</text>
<text x="315.7" y="623.0">4</text>
<text x="318.3" y="623.0">4</text>
<text x="320.9" y="622.9">5</text>
<text x="323.5" y="623.2">3</text>
<text x="326.1" y="622.0">13</text>
<text x="328.7" y="621.1">21</text>
<text x="331.3" y="622.7">7</text>
<text x="333.9" y="623.2">3</text>
<text x="336.5" y="623.0">4</text>
<text x="339.1" y="622.4">10</text>
<text x="341.7" y="622.8">6</text>
<text x="344.3" y="622.9">5</text>
<text x="346.9" y="621.7">16</text>
<text x="349.5" y="618.5">44</text>
<text x="352.2" y="622.4">10</text>
<text x="354.8" y="619.4">36</text>
<text x="357.4" y="623.2">3</text>
<text x="360.0" y="622.7">7</text>
<text x="362.6" y="621.8">15</text>
<text x="365.2" y="622.7">7</text>
<text x="367.8" y="623.0">4</text>
<text x="370.4" y="621.0">22</text>
<text x="373.0" y="621.2">20</text>
<text x="375.6" y="622.0">13</text>
<text x="378.2" y="622.8">6</text>
<text x="380.8" y="622.5">9</text>
<text x="383.4" y="621.6">17</text>
<text x="386.0" y="622.8">6</text>
<text x="388.6" y="623.2">3</text>
<text x="391.2" y="622.8">6</text>
<text x="393.8" y="623.2">3</text>
<text x="396.4" y="623.3">2</text>
<text x="399.0" y="623.2">3</text>
<text x="401.6" y="621.8">15</text>
<text x="404.3" y="622.9">5</text>
<text x="406.9" y="623.3">2</text>
<text x="409.5" y="622.8">6</text>
<text x="412.1" y="623.0">4</text>
<text x="414.7" y="622.8">6</text>
<text x="417.3" y="623.0">4</text>
<text x="419.9" y="622.6">8</text>
<text x="422.5" y="622.0">13</text>
<text x="425.1" y="621.7">16</text>
<text x="427.7" y="622.4">10</text>
<text x="430.3" y="623.3">2</text>
<text x="432.9" y="623.0">4</text>
<text x="435.5" y="622.1">12</text>
<text x="438.1" y="622.7">7</text>
<text x="440.7" y="621.4">18</text>
<text x="443.3" y="622.4">10</text>
<text x="445.9" y="622.0">13</text>
<text x="448.5" y="622.2">11</text>
<text x="451.1" y="622.8">6</text>
<text x="453.7" y="620.2">29</text>
<text x="456.4" y="621.3">19</text>
<text x="459.0" y="621.3">19</text>
<text x="461.6" y="618.5">44</text>
<text x="464.2" y="618.4">45</text>
<text x="466.8" y="622.6">8</text>
<text x="469.4" y="622.1">12</text>
<text x="472.0" y="621.8">15</text>
<text x="474.6" y="617.9">49</text>
<text x="477.2" y="621.7">16</text>
<text x="479.8" y="621.0">22</text>
<text x="482.4" y="621.7">16</text>
<text x="485.0" y="622.4">10</text>
<text x="487.6" y="620.6">25</text>
<text x="490.2" y="618.2">46</text>
<text x="492.8" y="621.1">21</text>
<text x="495.4" y="621.1">21</text>
<text x="498.0" y="618.0">48</text>
<text x="500.6" y="617.9">49</text>
<text x="503.2" y="619.2">38</text>
<text x="505.9" y="621.0">22</text>
<text x="508.5" y="621.7">16</text>
<text x="511.1" y="617.4">53</text>
<text x="513.7" y="622.6">8</text>
<text x="516.3" y="618.9">40</text>
<text x="518.9" y="620.8">24</text>
<text x="521.5" y="621.4">18</text>
<text x="524.1" y="620.9">23</text>
<text x="526.7" y="620.9">23</text>
<text x="529.3" y="618.0">48</text>
<text x="531.9" y="620.4">27</text>
<text x="534.5" y="621.0">22</text>
<text x="537.1" y="620.4">27</text>
<text x="539.7" y="621.1">21</text>
<text x="542.3" y="619.3">37</text>
<text x="544.9" y="621.4">18</text>
<text x="547.5" y="619.0">39</text>
<text x="550.1" y="618.9">40</text>
<text x="552.7" y="608.9">128</text>
<text x="555.3" y="612.6">95</text>
<text x="558.0" y="615.5">70</text>
<text x="560.6" y="617.1">56</text>
<text x="563.2" y="609.7">121</text>
<text x="565.8" y="604.1">170</text>
<text x="568.4" y="604.6">165</text>
<text x="571.0" y="600.1">205</text>
<text x="573.6" y="600.8">199</text>
<text x="576.2" y="609.8">120</text>
<text x="578.8" y="611.2">108</text>
<text x="581.4" y="598.8">216</text>
<text x="584.0" y="600.1">205</text>
<text x="586.6" y="596.2">239</text>
<text x="589.2" y="596.6">235</text>
<text x="591.8" y="591.6">279</text>
<text x="594.4" y="600.6">200</text>
<text x="597.0" y="600.4">202</text>
<text x="599.6" y="590.9">285</text>
<text x="602.2" y="592.6">270</text>
<text x="604.8" y="591.2">283</text>
<text x="607.4" y="590.4">290</text>
<text x="610.1" y="588.6">305</text>
<text x="612.7" y="605.8">155</text>
<text x="615.3" y="612.0">101</text>
<text x="617.9" y="592.9">268</text>
<text x="620.5" y="593.4">263</text>
<text x="623.1" y="596.0">241</text>
<text x="625.7" y="597.8">225</text>
<text x="628.3" y="598.9">215</text>
<text x="630.9" y="602.2">186</text>
<text x="633.5" y="612.2">99</text>
<text x="636.1" y="600.0">206</text>
<text x="638.7" y="600.4">202</text>
<text x="641.3" y="594.8">251</text>
<text x="643.9" y="596.6">235</text>
<text x="646.5" y="594.0">258</text>
<text x="649.1" y="600.0">206</text>
<text x="651.7" y="608.6">130</text>
<text x="654.3" y="593.8">260</text>
<text x="656.9" y="586.6">323</text>
<text x="659.5" y="586.9">320</text>
<text x="662.2" y="592.6">270</text>
<text x="664.8" y="590.5">289</text>
<text x="667.4" y="603.7">173</text>
<text x="670.0" y="608.6">130</text>
<text x="672.6" y="580.6">375</text>
<text x="675.2" y="581.2">370</text>
<text x="677.8" y="585.0">337</text>
<text x="680.4" y="580.9">373</text>
<text x="683.0" y="575.3">422</text>
<text x="685.6" y="596.6">235</text>
<text x="688.2" y="604.1">170</text>
<text x="690.8" y="578.9">390</text>
<text x="693.4" y="583.3">352</text>
<text x="696.0" y="585.0">337</text>
<text x="698.6" y="589.0">302</text>
<text x="701.2" y="581.7">366</text>
<text x="703.8" y="593.8">260</text>
<text x="706.4" y="601.8">190</text>
<text x="709.0" y="574.4">430</text>
<text x="711.6" y="585.0">337</text>
<text x="714.3" y="577.7">401</text>
<text x="716.9" y="576.5">411</text>
<text x="719.5" y="583.3">352</text>
<text x="722.1" y="589.2">300</text>
<text x="724.7" y="599.5">210</text>
<text x="727.3" y="573.7">436</text>
<text x="729.9" y="573.4">438</text>
<text x="732.5" y="575.5">420</text>
<text x="735.1" y="576.6">410</text>
<text x="737.7" y="580.2">379</text>
<text x="740.3" y="578.9">390</text>
<text x="742.9" y="602.0">188</text>
<text x="745.5" y="564.3">518</text>
<text x="748.1" y="573.2">440</text>
<text x="750.7" y="567.2">493</text>
<text x="753.3" y="563.4">526</text>
<text x="755.9" y="548.4">657</text>
<text x="758.5" y="569.0">477</text>
<text x="761.1" y="592.6">270</text>
<text x="763.7" y="524.6">865</text>
<text x="766.4" y="526.2">851</text>
<text x="769.0" y="517.6">927</text>
<text x="771.6" y="511.2">983</text>
<text x="774.2" y="493.6">1137</text>
<text x="776.8" y="530.2">816</text>
<text x="779.4" y="545.4">683</text>
<text x="782.0" y="455.2">1473</text>
<text x="784.6" y="414.6">1828</text>
<text x="787.2" y="522.7">882</text>
<text x="789.8" y="367.3">2242</text>
<text x="792.4" y="345.2">2435</text>
<text x="795.0" y="479.6">1259</text>
<text x="797.6" y="501.4">1068</text>
<text x="800.2" y="273.6">3062</text>
<text x="802.8" y="303.7">2798</text>
<text x="805.4" y="304.9">2788</text>
<text x="808.0" y="276.9">3033</text>
<text x="810.6" y="308.4">2757</text>
<text x="813.2" y="441.3">1594</text>
<text x="815.8" y="500.9">1073</text>
<text x="818.5" y="211.6">3604</text>
<text x="821.1" y="270.1">3092</text>
<text x="823.7" y="275.1">3049</text>
<text x="826.3" y="283.5">2975</text>
<text x="828.9" y="301.5">2818</text>
<text x="831.5" y="448.2">1534</text>
<text x="834.1" y="504.1">1045</text>
<text x="836.7" y="216.7">3560</text>
<text x="839.3" y="270.1">3092</text>
<text x="841.9" y="306.5">2774</text>
<text x="844.5" y="338.1">2497</text>
<text x="847.1" y="366.4">2250</text>
<text x="849.7" y="481.7">1241</text>
<text x="852.3" y="526.5">849</text>
<text x="854.9" y="333.8">2535</text>
<text x="857.5" y="387.1">2069</text>
<text x="860.1" y="414.1">1832</text>
<text x="862.7" y="425.0">1737</text>
<text x="865.3" y="415.2">1823</text>
<text x="867.9" y="500.5">1076</text>
<text x="870.6" y="500.3">1078</text>
<text x="873.2" y="344.2">2444</text>
<text x="875.8" y="407.4">1891</text>
<text x="878.4" y="421.0">1772</text>
<text x="881.0" y="449.2">1525</text>
<text x="883.6" y="448.8">1529</text>
<text x="886.2" y="526.5">849</text>
<text x="888.8" y="556.1">590</text>
<text x="891.4" y="414.4">1830</text>
<text x="894.0" y="447.6">1539</text>
<text x="896.6" y="464.9">1388</text>
<text x="899.2" y="493.1">1141</text>
<text x="901.8" y="476.4">1287</text>
<text x="904.4" y="557.1">581</text>
<text x="907.0" y="573.0">442</text>
<text x="909.6" y="463.7">1398</text>
<text x="912.2" y="506.2">1026</text>
<text x="914.8" y="519.0">914</text>
<text x="917.4" y="521.7">891</text>
<text x="920.0" y="514.1">957</text>
<text x="922.7" y="569.4">473</text>
<text x="925.3" y="586.7">322</text>
<text x="927.9" y="491.5">1155</text>
<text x="930.5" y="528.0">836</text>
<text x="933.1" y="534.7">777</text>
<text x="935.7" y="552.4">622</text>
<text x="938.3" y="601.2">195</text>
<text x="940.9" y="585.3">334</text>
<text x="943.5" y="583.7">348</text>
<text x="946.1" y="490.0">1168</text>
<text x="948.7" y="524.9">863</text>
<text x="951.3" y="529.0">827</text>
<text x="953.9" y="548.9">653</text>
<text x="956.5" y="600.4">202</text>
<text x="959.1" y="574.8">426</text>
<text x="961.7" y="587.6">314</text>
<text x="964.3" y="496.8">1109</text>
<text x="966.9" y="528.4">832</text>
<text x="969.5" y="593.6">262</text>
<text x="972.2" y="524.8">864</text>
<text x="974.8" y="532.1">800</text>
<text x="977.4" y="574.5">429</text>
<text x="980.0" y="591.4">281</text>
<text x="982.6" y="525.1">861</text>
<text x="985.2" y="552.6">620</text>
<text x="987.8" y="563.7">523</text>
<text x="990.4" y="558.8">566</text>
<text x="993.0" y="560.9">548</text>
<text x="995.6" y="595.6">244</text>
<text x="998.2" y="604.2">169</text>
<text x="1000.8" y="561.4">543</text>
<text x="1003.4" y="558.6">568</text>
<text x="1006.0" y="566.5">499</text>
<text x="1008.6" y="558.4">570</text>
<text x="1011.2" y="552.3">623</text>
<text x="1013.8" y="583.8">347</text>
<text x="1016.4" y="602.5">184</text>
<text x="1019.0" y="500.5">1076</text>
<text x="1021.6" y="524.5">866</text>
<text x="1024.3" y="537.2">755</text>
<text x="1026.9" y="522.5">884</text>
<text x="1029.5" y="520.6">900</text>
<text x="1032.1" y="568.9">478</text>
<text x="1034.7" y="575.7">418</text>
<text x="1037.3" y="465.7">1381</text>
<text x="1039.9" y="491.8">1152</text>
<text x="1042.5" y="507.3">1017</text>
<text x="1045.1" y="487.7">1188</text>
<text x="1047.7" y="473.5">1313</text>
<text x="1050.3" y="545.8">680</text>
<text x="1052.9" y="568.9">478</text>
<text x="1055.5" y="431.1">1684</text>
<text x="1058.1" y="454.4">1480</text>
<text x="1060.7" y="469.3">1349</text>
<text x="1063.3" y="470.8">1336</text>
<text x="1065.9" y="470.4">1340</text>
<text x="1068.5" y="542.8">706</text>
<text x="1071.1" y="580.1">380</text>
<text x="1073.7" y="465.2">1385</text>
<text x="1076.4" y="544.4">692</text>
<text x="1079.0" y="475.3">1297</text>
<text x="1081.6" y="446.1">1552</text>
<text x="1084.2" y="453.0">1492</text>
<text x="1086.8" y="524.1">870</text>
<text x="1089.4" y="546.6">673</text>
<text x="1092.0" y="365.8">2255</text>
<text x="1094.6" y="409.3">1874</text>
<text x="1097.2" y="428.7">1705</text>
<text x="1099.8" y="410.8">1861</text>
<text x="1102.4" y="401.3">1944</text>
<text x="1105.0" y="492.4">1147</text>
<text x="1107.6" y="528.8">829</text>
<text x="1110.2" y="286.4">2950</text>
<text x="1112.8" y="363.1">2279</text>
<text x="1115.4" y="374.9">2175</text>
<text x="1118.0" y="369.2">2225</text>
<text x="1120.6" y="351.3">2382</text>
<text x="1123.2" y="476.8">1284</text>
<text x="1125.8" y="523.7">873</text>
<text x="1128.5" y="237.2">3380</text>
<text x="1131.1" y="318.7">2667</text>
<text x="1133.7" y="352.4">2372</text>
<text x="1136.3" y="336.4">2512</text>
<text x="1138.9" y="308.9">2753</text>
<text x="1141.5" y="439.7">1608</text>
<text x="1144.1" y="505.6">1032</text>
<text x="1146.7" y="498.5">1094</text>
<text x="1149.3" y="173.7">3936</text>
<text x="1151.9" y="289.9">2919</text>
<text x="1154.5" y="313.1">2716</text>
<text x="1157.1" y="306.9">2770</text>
<text x="1159.7" y="455.1">1474</text>
<text x="1162.3" y="501.2">1070</text>
<text x="1164.9" y="161.0">4047</text>
<text x="1167.5" y="274.8">3051</text>
<text x="1170.1" y="318.7">2667</text>
<text x="1172.7" y="517.7">926</text>
<text x="1175.3" y="201.1">3696</text>
<text x="1177.9" y="427.3">1717</text>
<text x="1180.6" y="497.8">1100</text>
<text x="1183.2" y="103.1">4554</text>
<text x="1185.8" y="207.6">3639</text>
<text x="1188.4" y="269.2">3100</text>
<text x="1191.0" y="247.5">3290</text>
<text x="1193.6" y="234.8">3401</text>
<text x="1196.2" y="408.0">1886</text>
<text x="1198.8" y="481.4">1243</text>
<text x="1201.4" y="166.7">3997</text>
</g>
<text class="r" x="752.5" y="492.0" textLength="47.0" lengthAdjust="spacingAndGlyphs">70796</text>
<text class="r" x="876.4" y="363.0" textLength="58.0" lengthAdjust="spacingAndGlyphs">140646</text>
<text class="r" x="1098.3" y="102.5" textLength="54.0" lengthAdjust="spacingAndGlyphs">281570</text>
<polyline points="136.5,634.0 138.9,634.0 141.3,634.0 143.7,634.0 146.0,634.0 148.4,634.0 150.8,634.0 153.2,634.0 155.6,633.9 158.0,633.9 160.3,633.9 162.7,633.9 165.1,633.9 167.5,633.8 169.9,633.7 172.3,633.6 174.6,633.5 177.0,633.4 179.4,633.3 181.8,633.3 184.2,633.2 186.6,633.1 188.9,633.0 191.3,632.9 193.7,632.8 196.1,632.7 198.5,632.5 200.9,632.3 203.2,632.3 205.6,632.1 208.0,631.9 210.4,631.8 212.8,631.7 215.2,631.5 217.5,631.2 219.9,631.1 222.3,631.0 224.7,630.9 227.1,630.8 229.5,630.7 231.8,630.6 234.2,630.5 236.6,630.4 239.0,630.3 241.4,630.2 243.8,630.2 246.1,630.1 248.5,630.1 250.9,630.1 253.3,630.0 255.7,630.0 258.1,630.0 260.4,630.0 262.8,630.0 265.2,629.7 267.6,629.6 270.0,629.5 272.4,629.5 274.7,629.5 277.1,629.4 279.5,629.4 281.9,629.4 284.3,629.4 286.7,629.3 289.1,629.3 291.4,629.3 293.8,629.3 296.2,629.3 298.6,629.3 301.0,629.2 303.4,629.2 305.7,629.2 308.1,629.2 310.5,629.2 312.9,629.2 315.3,629.2 317.7,629.1 320.0,629.1 322.4,629.0 324.8,629.0 327.2,629.0 329.6,629.0 332.0,628.9 334.3,628.9 336.7,628.9 339.1,628.9 341.5,628.8 343.9,628.8 346.3,628.8 348.6,628.8 351.0,628.8 353.4,628.7 355.8,628.7 358.2,628.7 360.6,628.7 362.9,628.7 365.3,628.7 367.7,628.7 370.1,628.7 372.5,628.7 374.9,628.7 377.2,628.7 379.6,628.6 382.0,628.6 384.4,628.6 386.8,628.6 389.2,628.6 391.5,628.5 393.9,628.5 396.3,628.5 398.7,628.5 401.1,628.5 403.5,628.5 405.8,628.4 408.2,628.4 410.6,628.4 413.0,628.4 415.4,628.3 417.8,628.3 420.1,628.3 422.5,628.2 424.9,628.1 427.3,628.1 429.7,628.1 432.1,628.0 434.4,627.9 436.8,627.9 439.2,627.9 441.6,627.9 444.0,627.8 446.4,627.8 448.8,627.7 451.1,627.7 453.5,627.6 455.9,627.5 458.3,627.4 460.7,627.4 463.1,627.3 465.4,627.3 467.8,627.2 470.2,627.2 472.6,627.1 475.0,627.1 477.4,627.0 479.7,627.0 482.1,627.0 484.5,626.9 486.9,626.8 489.3,626.8 491.7,626.7 494.0,626.7 496.4,626.6 498.8,626.6 501.2,626.5 503.6,626.4 506.0,626.2 508.3,626.0 510.7,625.9 513.1,625.8 515.5,625.6 517.9,625.3 520.3,625.0 522.6,624.6 525.0,624.2 527.4,624.0 529.8,623.8 532.2,623.4 534.6,623.0 536.9,622.6 539.3,622.1 541.7,621.6 544.1,621.2 546.5,620.9 548.9,620.3 551.2,619.8 553.6,619.3 556.0,618.8 558.4,618.2 560.8,617.9 563.2,617.8 565.5,617.3 567.9,616.8 570.3,616.3 572.7,615.9 575.1,615.5 577.5,615.2 579.8,615.0 582.2,614.6 584.6,614.2 587.0,613.8 589.4,613.3 591.8,612.9 594.2,612.5 596.5,612.2 598.9,611.8 601.3,611.2 603.7,610.6 606.1,610.1 608.5,609.5 610.8,609.2 613.2,609.0 615.6,608.3 618.0,607.6 620.4,607.0 622.8,606.3 625.1,605.5 627.5,605.1 629.9,604.8 632.3,604.0 634.7,603.4 637.1,602.8 639.4,602.2 641.8,601.5 644.2,601.1 646.6,600.7 649.0,599.9 651.4,599.3 653.7,598.6 656.1,597.8 658.5,597.1 660.9,596.6 663.3,596.2 665.7,595.4 668.0,594.6 670.4,593.8 672.8,593.1 675.2,592.4 677.6,591.6 680.0,591.3 682.3,590.3 684.7,589.5 687.1,588.6 689.5,587.6 691.9,586.4 694.3,585.5 696.6,585.0 699.0,583.4 701.4,581.9 703.8,580.2 706.2,578.3 708.6,576.2 710.9,574.7 713.3,573.5 715.7,570.8 718.1,567.4 720.5,565.8 722.9,561.6 725.2,557.1 727.6,554.8 730.0,552.8 732.4,547.2 734.8,542.0 737.2,536.8 739.6,531.2 741.9,526.2 744.3,523.2 746.7,521.2 749.1,514.6 751.5,508.9 753.9,503.2 756.2,497.7 758.6,492.5 761.0,489.7 763.4,487.8 765.8,481.2 768.2,475.5 770.5,470.4 772.9,465.8 775.3,461.6 777.7,459.4 780.1,457.8 782.5,453.1 784.8,449.3 787.2,445.9 789.6,442.7 792.0,439.4 794.4,437.4 796.8,435.4 799.1,430.9 801.5,427.4 803.9,424.1 806.3,421.3 808.7,418.5 811.1,416.9 813.4,415.8 815.8,412.5 818.2,409.6 820.6,407.1 823.0,405.0 825.4,402.6 827.7,401.5 830.1,400.7 832.5,398.1 834.9,396.2 837.3,394.5 839.7,392.9 842.0,391.1 844.4,390.3 846.8,389.7 849.2,387.5 851.6,386.0 854.0,384.6 856.3,383.4 858.7,383.0 861.1,382.4 863.5,381.8 865.9,379.6 868.3,378.0 870.6,376.5 873.0,375.3 875.4,374.9 877.8,374.2 880.2,373.6 882.6,371.5 885.0,370.0 887.3,369.5 889.7,367.9 892.1,366.4 894.5,365.6 896.9,365.1 899.3,363.5 901.6,362.4 904.0,361.4 906.4,360.4 908.8,359.4 911.2,358.9 913.6,358.6 915.9,357.6 918.3,356.5 920.7,355.6 923.1,354.6 925.5,353.4 927.9,352.8 930.2,352.4 932.6,350.5 935.0,348.9 937.4,347.5 939.8,345.8 942.2,344.2 944.5,343.3 946.9,342.5 949.3,340.0 951.7,337.8 954.1,336.0 956.5,333.8 958.8,331.3 961.2,330.1 963.6,329.2 966.0,326.1 968.4,323.3 970.8,320.9 973.1,318.4 975.5,315.9 977.9,314.6 980.3,313.9 982.7,311.4 985.1,310.1 987.4,307.7 989.8,304.8 992.2,302.1 994.6,300.4 997.0,299.2 999.4,295.0 1001.7,291.6 1004.1,288.4 1006.5,285.0 1008.9,281.4 1011.3,279.3 1013.7,277.7 1016.0,272.3 1018.4,268.1 1020.8,264.1 1023.2,260.0 1025.6,255.6 1028.0,253.2 1030.3,251.6 1032.7,245.3 1035.1,240.4 1037.5,236.0 1039.9,231.4 1042.3,226.3 1044.7,223.3 1047.0,221.4 1049.4,219.4 1051.8,212.1 1054.2,206.7 1056.6,201.7 1059.0,196.6 1061.3,193.9 1063.7,191.9 1066.1,184.4 1068.5,178.8 1070.9,173.9 1073.3,172.2 1075.6,165.3 1078.0,162.2 1080.4,160.1 1082.8,151.7 1085.2,145.0 1087.6,139.3 1089.9,133.2 1092.3,126.9 1094.7,123.4 1097.1,121.1 1099.5,113.8" fill="none" stroke="#ff0000" stroke-width="2" stroke-linejoin="round"/>
<g fill="#ff0000">
<circle cx="136.5" cy="634.0" r="5.65"/>
<circle cx="138.9" cy="634.0" r="5.65"/>
<circle cx="141.3" cy="634.0" r="5.65"/>
<circle cx="143.7" cy="634.0" r="5.65"/>
<circle cx="146.0" cy="634.0" r="5.65"/>
<circle cx="148.4" cy="634.0" r="5.65"/>
<circle cx="150.8" cy="634.0" r="5.65"/>
<circle cx="153.2" cy="634.0" r="5.65"/>
<circle cx="155.6" cy="633.9" r="5.65"/>
<circle cx="158.0" cy="633.9" r="5.65"/>
<circle cx="160.3" cy="633.9" r="5.65"/>
<circle cx="162.7" cy="633.9" r="5.65"/>
<circle cx="165.1" cy="633.9" r="5.65"/>
<circle cx="167.5" cy="633.8" r="5.65"/>
<circle cx="169.9" cy="633.7" r="5.65"/>
<circle cx="172.3" cy="633.6" r="5.65"/>
<circle cx="174.6" cy="633.5" r="5.65"/>
<circle cx="177.0" cy="633.4" r="5.65"/>
<circle cx="179.4" cy="633.3" r="5.65"/>
<circle cx="181.8" cy="633.3" r="5.65"/>
<circle cx="184.2" cy="633.2" r="5.65"/>
<circle cx="186.6" cy="633.1" r="5.65"/>
<circle cx="188.9" cy="633.0" r="5.65"/>
<circle cx="191.3" cy="632.9" r="5.65"/>
<circle cx="193.7" cy="632.8" r="5.65"/>
<circle cx="196.1" cy="632.7" r="5.65"/>
<circle cx="198.5" cy="632.5" r="5.65"/>
<circle cx="200.9" cy="632.3" r="5.65"/>
<circle cx="203.2" cy="632.3" r="5.65"/>
<circle cx="205.6" cy="632.1" r="5.65"/>
<circle cx="208.0" cy="631.9" r="5.65"/>
<circle cx="210.4" cy="631.8" r="5.65"/>
<circle cx="212.8" cy="631.7" r="5.65"/>
<circle cx="215.2" cy="631.5" r="5.65"/>
<circle cx="217.5" cy="631.2" r="5.65"/>
<circle cx="219.9" cy="631.1" r="5.65"/>
<circle cx="222.3" cy="631.0" r="5.65"/>
<circle cx="224.7" cy="630.9" r="5.65"/>
<circle cx="227.1" cy="630.8" r="5.65"/>
<circle cx="229.5" cy="630.7" r="5.65"/>
<circle cx="231.8" cy="630.6" r="5.65"/>
<circle cx="234.2" cy="630.5" r="5.65"/>
<circle cx="236.6" cy="630.4" r="5.65"/>
<circle cx="239.0" cy="630.3" r="5.65"/>
<circle cx="241.4" cy="630.2" r="5.65"/>
<circle cx="243.8" cy="630.2" r="5.65"/>
<circle cx="246.1" cy="630.1" r="5.65"/>
<circle cx="248.5" cy="630.1" r="5.65"/>
<circle cx="250.9" cy="630.1" r="5.65"/>
<circle cx="253.3" cy="630.0" r="5.65"/>
<circle cx="255.7" cy="630.0" r="5.65"/>
<circle cx="258.1" cy="630.0" r="5.65"/>
<circle cx="260.4" cy="630.0" r="5.65"/>
<circle cx="262.8" cy="630.0" r="5.65"/>
<circle cx="265.2" cy="629.7" r="5.65"/>
<circle cx="267.6" cy="629.6" r="5.65"/>
<circle cx="270.0" cy="629.5" r="5.65"/>
<circle cx="272.4" cy="629.5" r="5.65"/>
<circle cx="274.7" cy="629.5" r="5.65"/>
<circle cx="277.1" cy="629.4" r="5.65"/>
<circle cx="279.5" cy="629.4" r="5.65"/>
<circle cx="281.9" cy="629.4" r="5.65"/>
<circle cx="284.3" cy="629.4" r="5.65"/>
<circle cx="286.7" cy="629.3" r="5.65"/>
<circle cx="289.1" cy="629.3" r="5.65"/>
<circle cx="291.4" cy="629.3" r="5.65"/>
<circle cx="293.8" cy="629.3" r="5.65"/>
<circle cx="296.2" cy="629.3" r="5.65"/>
<circle cx="298.6" cy="629.3" r="5.65"/>
<circle cx="301.0" cy="629.2" r="5.65"/>
<circle cx="303.4" cy="629.2" r="5.65"/>
<circle cx="305.7" cy="629.2" r="5.65"/>
<circle cx="308.1" cy="629.2" r="5.65"/>
<circle cx="310.5" cy="629.2" r="5.65"/>
<circle cx="312.9" cy="629.2" r="5.65"/>
<circle cx="315.3" cy="629.2" r="5.65"/>
<circle cx="317.7" cy="629.1" r="5.65"/>
<circle cx="320.0" cy="629.1" r="5.65"/>
<circle cx="322.4" cy="629.0" r="5.65"/>
<circle cx="324.8" cy="629.0" r="5.65"/>
<circle cx="327.2" cy="629.0" r="5.65"/>
<circle cx="329.6" cy="629.0" r="5.65"/>
<circle cx="332.0" cy="628.9" r="5.65"/>
<circle cx="334.3" cy="628.9" r="5.65"/>
<circle cx="336.7" cy="628.9" r="5.65"/>
<circle cx="339.1" cy="628.9" r="5.65"/>
<circle cx="341.5" cy="628.8" r="5.65"/>
<circle cx="343.9" cy="628.8" r="5.65"/>
<circle cx="346.3" cy="628.8" r="5.65"/>
<circle cx="348.6" cy="628.8" r="5.65"/>
<circle cx="351.0" cy="628.8" r="5.65"/>
<circle cx="353.4" cy="628.7" r="5.65"/>
<circle cx="355.8" cy="628.7" r="5.65"/>
<circle cx="358.2" cy="628.7" r="5.65"/>
<circle cx="360.6" cy="628.7" r="5.65"/>
<circle cx="362.9" cy="628.7" r="5.65"/>
<circle cx="365.3" cy="628.7" r="5.65"/>
<circle cx="367.7" cy="628.7" r="5.65"/>
<circle cx="370.1" cy="628.7" r="5.65"/>
<circle cx="372.5" cy="628.7" r="5.65"/>
<circle cx="374.9" cy="628.7" r="5.65"/>
<circle cx="377.2" cy="628.7" r="5.65"/>
<circle cx="379.6" cy="628.6" r="5.65"/>
<circle cx="382.0" cy="628.6" r="5.65"/>
<circle cx="384.4" cy="628.6" r="5.65"/>
<circle cx="386.8" cy="628.6" r="5.65"/>
<circle cx="389.2" cy="628.6" r="5.65"/>
<circle cx="391.5" cy="628.5" r="5.65"/>
<circle cx="393.9" cy="628.5" r="5.65"/>
<circle cx="396.3" cy="628.5" r="5.65"/>
<circle cx="398.7" cy="628.5" r="5.65"/>
<circle cx="401.1" cy="628.5" r="5.65"/>
<circle cx="403.5" cy="628.5" r="5.65"/>
<circle cx="405.8" cy="628.4" r="5.65"/>
<circle cx="408.2" cy="628.4" r="5.65"/>
<circle cx="410.6" cy="628.4" r="5.65"/>
<circle cx="413.0" cy="628.4" r="5.65"/>
<circle cx="415.4" cy="628.3" r="5.65"/>
<circle cx="417.8" cy="628.3" r="5.65"/>
<circle cx="420.1" cy="628.3" r="5.65"/>
<circle cx="422.5" cy="628.2" r="5.65"/>
<circle cx="424.9" cy="628.1" r="5.65"/>
<circle cx="427.3" cy="628.1" r="5.65"/>
<circle cx="429.7" cy="628.1" r="5.65"/>
<circle cx="432.1" cy="628.0" r="5.65"/>
<circle cx="434.4" cy="627.9" r="5.65"/>
<circle cx="436.8" cy="627.9" r="5.65"/>
<circle cx="439.2" cy="627.9" r="5.65"/>
<circle cx="441.6" cy="627.9" r="5.65"/>
<circle cx="444.0" cy="627.8" r="5.65"/>
<circle cx="446.4" cy="627.8" r="5.65"/>
<circle cx="448.8" cy="627.7" r="5.65"/>
<circle cx="451.1" cy="627.7" r="5.65"/>
<circle cx="453.5" cy="627.6" r="5.65"/>
<circle cx="455.9" cy="627.5" r="5.65"/>
<circle cx="458.3" cy="627.4" r="5.65"/>
<circle cx="460.7" cy="627.4" r="5.65"/>
<circle cx="463.1" cy="627.3" r="5.65"/>
<circle cx="465.4" cy="627.3" r="5.65"/>
<circle cx="467.8" cy="627.2" r="5.65"/>
<circle cx="470.2" cy="627.2" r="5.65"/>
<circle cx="472.6" cy="627.1" r="5.65"/>
<circle cx="475.0" cy="627.1" r="5.65"/>
<circle cx="477.4" cy="627.0" r="5.65"/>
<circle cx="479.7" cy="627.0" r="5.65"/>
<circle cx="482.1" cy="627.0" r="5.65"/>
<circle cx="484.5" cy="626.9" r="5.65"/>
<circle cx="486.9" cy="626.8" r="5.65"/>
<circle cx="489.3" cy="626.8" r="5.65"/>
<circle cx="491.7" cy="626.7" r="5.65"/>
<circle cx="494.0" cy="626.7" r="5.65"/>
<circle cx="496.4" cy="626.6" r="5.65"/>
<circle cx="498.8" cy="626.6" r="5.65"/>
<circle cx="501.2" cy="626.5" r="5.65"/>
<circle cx="503.6" cy="626.4" r="5.65"/>
<circle cx="506.0" cy="626.2" r="5.65"/>
<circle cx="508.3" cy="626.0" r="5.65"/>
<circle cx="510.7" cy="625.9" r="5.65"/>
<circle cx="513.1" cy="625.8" r="5.65"/>
<circle cx="515.5" cy="625.6" r="5.65"/>
<circle cx="517.9" cy="625.3" r="5.65"/>
<circle cx="520.3" cy="625.0" r="5.65"/>
<circle cx="522.6" cy="624.6" r="5.65"/>
<circle cx="525.0" cy="624.2" r="5.65"/>
<circle cx="527.4" cy="624.0" r="5.65"/>
<circle cx="529.8" cy="623.8" r="5.65"/>
<circle cx="532.2" cy="623.4" r="5.65"/>
<circle cx="534.6" cy="623.0" r="5.65"/>
<circle cx="536.9" cy="622.6" r="5.65"/>
<circle cx="539.3" cy="622.1" r="5.65"/>
<circle cx="541.7" cy="621.6" r="5.65"/>
<circle cx="544.1" cy="621.2" r="5.65"/>
<circle cx="546.5" cy="620.9" r="5.65"/>
<circle cx="548.9" cy="620.3" r="5.65"/>
<circle cx="551.2" cy="619.8" r="5.65"/>
<circle cx="553.6" cy="619.3" r="5.65"/>
<circle cx="556.0" cy="618.8" r="5.65"/>
<circle cx="558.4" cy="618.2" r="5.65"/>
<circle cx="560.8" cy="617.9" r="5.65"/>
<circle cx="563.2" cy="617.8" r="5.65"/>
<circle cx="565.5" cy="617.3" r="5.65"/>
<circle cx="567.9" cy="616.8" r="5.65"/>
<circle cx="570.3" cy="616.3" r="5.65"/>
<circle cx="572.7" cy="615.9" r="5.65"/>
<circle cx="575.1" cy="615.5" r="5.65"/>
<circle cx="577.5" cy="615.2" r="5.65"/>
<circle cx="579.8" cy="615.0" r="5.65"/>
<circle cx="582.2" cy="614.6" r="5.65"/>
<circle cx="584.6" cy="614.2" r="5.65"/>
<circle cx="587.0" cy="613.8" r="5.65"/>
<circle cx="589.4" cy="613.3" r="5.65"/>
<circle cx="591.8" cy="612.9" r="5.65"/>
<circle cx="594.2" cy="612.5" r="5.65"/>
<circle cx="596.5" cy="612.2" r="5.65"/>
<circle cx="598.9" cy="611.8" r="5.65"/>
<circle cx="601.3" cy="611.2" r="5.65"/>
<circle cx="603.7" cy="610.6" r="5.65"/>
<circle cx="606.1" cy="610.1" r="5.65"/>
<circle cx="608.5" cy="609.5" r="5.65"/>
<circle cx="610.8" cy="609.2" r="5.65"/>
<circle cx="613.2" cy="609.0" r="5.65"/>
<circle cx="615.6" cy="608.3" r="5.65"/>
<circle cx="618.0" cy="607.6" r="5.65"/>
<circle cx="620.4" cy="607.0" r="5.65"/>
<circle cx="622.8" cy="606.3" r="5.65"/>
<circle cx="625.1" cy="605.5" r="5.65"/>
<circle cx="627.5" cy="605.1" r="5.65"/>
<circle cx="629.9" cy="604.8" r="5.65"/>
<circle cx="632.3" cy="604.0" r="5.65"/>
<circle cx="634.7" cy="603.4" r="5.65"/>
<circle cx="637.1" cy="602.8" r="5.65"/>
<circle cx="639.4" cy="602.2" r="5.65"/>
<circle cx="641.8" cy="601.5" r="5.65"/>
<circle cx="644.2" cy="601.1" r="5.65"/>
<circle cx="646.6" cy="600.7" r="5.65"/>
<circle cx="649.0" cy="599.9" r="5.65"/>
<circle cx="651.4" cy="599.3" r="5.65"/>
<circle cx="653.7" cy="598.6" r="5.65"/>
<circle cx="656.1" cy="597.8" r="5.65"/>
<circle cx="658.5" cy="597.1" r="5.65"/>
<circle cx="660.9" cy="596.6" r="5.65"/>
<circle cx="663.3" cy="596.2" r="5.65"/>
<circle cx="665.7" cy="595.4" r="5.65"/>
<circle cx="668.0" cy="594.6" r="5.65"/>
<circle cx="670.4" cy="593.8" r="5.65"/>
<circle cx="672.8" cy="593.1" r="5.65"/>
<circle cx="675.2" cy="592.4" r="5.65"/>
<circle cx="677.6" cy="591.6" r="5.65"/>
<circle cx="680.0" cy="591.3" r="5.65"/>
<circle cx="682.3" cy="590.3" r="5.65"/>
<circle cx="684.7" cy="589.5" r="5.65"/>
<circle cx="687.1" cy="588.6" r="5.65"/>
<circle cx="689.5" cy="587.6" r="5.65"/>
<circle cx="691.9" cy="586.4" r="5.65"/>
<circle cx="694.3" cy="585.5" r="5.65"/>
<circle cx="696.6" cy="585.0" r="5.65"/>
<circle cx="699.0" cy="583.4" r="5.65"/>
<circle cx="701.4" cy="581.9" r="5.65"/>
<circle cx="703.8" cy="580.2" r="5.65"/>
<circle cx="706.2" cy="578.3" r="5.65"/>
<circle cx="708.6" cy="576.2" r="5.65"/>
<circle cx="710.9" cy="574.7" r="5.65"/>
<circle cx="713.3" cy="573.5" r="5.65"/>
<circle cx="715.7" cy="570.8" r="5.65"/>
<circle cx="718.1" cy="567.4" r="5.65"/>
<circle cx="720.5" cy="565.8" r="5.65"/>
<circle cx="722.9" cy="561.6" r="5.65"/>
<circle cx="725.2" cy="557.1" r="5.65"/>
<circle cx="727.6" cy="554.8" r="5.65"/>
<circle cx="730.0" cy="552.8" r="5.65"/>
<circle cx="732.4" cy="547.2" r="5.65"/>
<circle cx="734.8" cy="542.0" r="5.65"/>
<circle cx="737.2" cy="536.8" r="5.65"/>
<circle cx="739.6" cy="531.2" r="5.65"/>
<circle cx="741.9" cy="526.2" r="5.65"/>
<circle cx="744.3" cy="523.2" r="5.65"/>
<circle cx="746.7" cy="521.2" r="5.65"/>
<circle cx="749.1" cy="514.6" r="5.65"/>
<circle cx="751.5" cy="508.9" r="5.65"/>
<circle cx="753.9" cy="503.2" r="5.65"/>
<circle cx="756.2" cy="497.7" r="5.65"/>
<circle cx="758.6" cy="492.5" r="5.65"/>
<circle cx="761.0" cy="489.7" r="5.65"/>
<circle cx="763.4" cy="487.8" r="5.65"/>
<circle cx="765.8" cy="481.2" r="5.65"/>
<circle cx="768.2" cy="475.5" r="5.65"/>
<circle cx="770.5" cy="470.4" r="5.65"/>
<circle cx="772.9" cy="465.8" r="5.65"/>
<circle cx="775.3" cy="461.6" r="5.65"/>
<circle cx="777.7" cy="459.4" r="5.65"/>
<circle cx="780.1" cy="457.8" r="5.65"/>
<circle cx="782.5" cy="453.1" r="5.65"/>
<circle cx="784.8" cy="449.3" r="5.65"/>
<circle cx="787.2" cy="445.9" r="5.65"/>
<circle cx="789.6" cy="442.7" r="5.65"/>
<circle cx="792.0" cy="439.4" r="5.65"/>
<circle cx="794.4" cy="437.4" r="5.65"/>
<circle cx="796.8" cy="435.4" r="5.65"/>
<circle cx="799.1" cy="430.9" r="5.65"/>
<circle cx="801.5" cy="427.4" r="5.65"/>
<circle cx="803.9" cy="424.1" r="5.65"/>
<circle cx="806.3" cy="421.3" r="5.65"/>
<circle cx="808.7" cy="418.5" r="5.65"/>
<circle cx="811.1" cy="416.9" r="5.65"/>
<circle cx="813.4" cy="415.8" r="5.65"/>
<circle cx="815.8" cy="412.5" r="5.65"/>
<circle cx="818.2" cy="409.6" r="5.65"/>
<circle cx="820.6" cy="407.1" r="5.65"/>
<circle cx="823.0" cy="405.0" r="5.65"/>
<circle cx="825.4" cy="402.6" r="5.65"/>
<circle cx="827.7" cy="401.5" r="5.65"/>
<circle cx="830.1" cy="400.7" r="5.65"/>
<circle cx="832.5" cy="398.1" r="5.65"/>
<circle cx="834.9" cy="396.2" r="5.65"/>
<circle cx="837.3" cy="394.5" r="5.65"/>
<circle cx="839.7" cy="392.9" r="5.65"/>
<circle cx="842.0" cy="391.1" r="5.65"/>
<circle cx="844.4" cy="390.3" r="5.65"/>
<circle cx="846.8" cy="389.7" r="5.65"/>
<circle cx="849.2" cy="387.5" r="5.65"/>
<circle cx="851.6" cy="386.0" r="5.65"/>
<circle cx="854.0" cy="384.6" r="5.65"/>
<circle cx="856.3" cy="383.4" r="5.65"/>
<circle cx="858.7" cy="383.0" r="5.65"/>
<circle cx="861.1" cy="382.4" r="5.65"/>
<circle cx="863.5" cy="381.8" r="5.65"/>
<circle cx="865.9" cy="379.6" r="5.65"/>
<circle cx="868.3" cy="378.0" r="5.65"/>
<circle cx="870.6" cy="376.5" r="5.65"/>
<circle cx="873.0" cy="375.3" r="5.65"/>
<circle cx="875.4" cy="374.9" r="5.65"/>
<circle cx="877.8" cy="374.2" r="5.65"/>
<circle cx="880.2" cy="373.6" r="5.65"/>
<circle cx="882.6" cy="371.5" r="5.65"/>
<circle cx="885.0" cy="370.0" r="5.65"/>
<circle cx="887.3" cy="369.5" r="5.65"/>
<circle cx="889.7" cy="367.9" r="5.65"/>
<circle cx="892.1" cy="366.4" r="5.65"/>
<circle cx="894.5" cy="365.6" r="5.65"/>
<circle cx="896.9" cy="365.1" r="5.65"/>
<circle cx="899.3" cy="363.5" r="5.65"/>
<circle cx="901.6" cy="362.4" r="5.65"/>
<circle cx="904.0" cy="361.4" r="5.65"/>
<circle cx="906.4" cy="360.4" r="5.65"/>
<circle cx="908.8" cy="359.4" r="5.65"/>
<circle cx="911.2" cy="358.9" r="5.65"/>
<circle cx="913.6" cy="358.6" r="5.65"/>
<circle cx="915.9" cy="357.6" r="5.65"/>
<circle cx="918.3" cy="356.5" r="5.65"/>
<circle cx="920.7" cy="355.6" r="5.65"/>
<circle cx="923.1" cy="354.6" r="5.65"/>
<circle cx="925.5" cy="353.4" r="5.65"/>
<circle cx="927.9" cy="352.8" r="5.65"/>
<circle cx="930.2" cy="352.4" r="5.65"/>
<circle cx="932.6" cy="350.5" r="5.65"/>
<circle cx="935.0" cy="348.9" r="5.65"/>
<circle cx="937.4" cy="347.5" r="5.65"/>
<circle cx="939.8" cy="345.8" r="5.65"/>
<circle cx="942.2" cy="344.2" r="5.65"/>
<circle cx="944.5" cy="343.3" r="5.65"/>
<circle cx="946.9" cy="342.5" r="5.65"/>
<circle cx="949.3" cy="340.0" r="5.65"/>
<circle cx="951.7" cy="337.8" r="5.65"/>
<circle cx="954.1" cy="336.0" r="5.65"/>
<circle cx="956.5" cy="333.8" r="5.65"/>
<circle cx="958.8" cy="331.3" r="5.65"/>
<circle cx="961.2" cy="330.1" r="5.65"/>
<circle cx="963.6" cy="329.2" r="5.65"/>
<circle cx="966.0" cy="326.1" r="5.65"/>
<circle cx="968.4" cy="323.3" r="5.65"/>
<circle cx="970.8" cy="320.9" r="5.65"/>
<circle cx="973.1" cy="318.4" r="5.65"/>
<circle cx="975.5" cy="315.9" r="5.65"/>
<circle cx="977.9" cy="314.6" r="5.65"/>
<circle cx="980.3" cy="313.9" r="5.65"/>
<circle cx="982.7" cy="311.4" r="5.65"/>
<circle cx="985.1" cy="310.1" r="5.65"/>
<circle cx="987.4" cy="307.7" r="5.65"/>
<circle cx="989.8" cy="304.8" r="5.65"/>
<circle cx="992.2" cy="302.1" r="5.65"/>
<circle cx="994.6" cy="300.4" r="5.65"/>
<circle cx="997.0" cy="299.2" r="5.65"/>
<circle cx="999.4" cy="295.0" r="5.65"/>
<circle cx="1001.7" cy="291.6" r="5.65"/>
<circle cx="1004.1" cy="288.4" r="5.65"/>
<circle cx="1006.5" cy="285.0" r="5.65"/>
<circle cx="1008.9" cy="281.4" r="5.65"/>
<circle cx="1011.3" cy="279.3" r="5.65"/>
<circle cx="1013.7" cy="277.7" r="5.65"/>
<circle cx="1016.0" cy="272.3" r="5.65"/>
<circle cx="1018.4" cy="268.1" r="5.65"/>
<circle cx="1020.8" cy="264.1" r="5.65"/>
<circle cx="1023.2" cy="260.0" r="5.65"/>
<circle cx="1025.6" cy="255.6" r="5.65"/>
<circle cx="1028.0" cy="253.2" r="5.65"/>
<circle cx="1030.3" cy="251.6" r="5.65"/>
<circle cx="1032.7" cy="245.3" r="5.65"/>
<circle cx="1035.1" cy="240.4" r="5.65"/>
<circle cx="1037.5" cy="236.0" r="5.65"/>
<circle cx="1039.9" cy="231.4" r="5.65"/>
<circle cx="1042.3" cy="226.3" r="5.65"/>
<circle cx="1044.7" cy="223.3" r="5.65"/>
<circle cx="1047.0" cy="221.4" r="5.65"/>
<circle cx="1049.4" cy="219.4" r="5.65"/>
<circle cx="1051.8" cy="212.1" r="5.65"/>
<circle cx="1054.2" cy="206.7" r="5.65"/>
<circle cx="1056.6" cy="201.7" r="5.65"/>
<circle cx="1059.0" cy="196.6" r="5.65"/>
<circle cx="1061.3" cy="193.9" r="5.65"/>
<circle cx="1063.7" cy="191.9" r="5.65"/>
<circle cx="1066.1" cy="184.4" r="5.65"/>
<circle cx="1068.5" cy="178.8" r="5.65"/>
<circle cx="1070.9" cy="173.9" r="5.65"/>
<circle cx="1073.3" cy="172.2" r="5.65"/>
<circle cx="1075.6" cy="165.3" r="5.65"/>
<circle cx="1078.0" cy="162.2" r="5.65"/>
<circle cx="1080.4" cy="160.1" r="5.65"/>
<circle cx="1082.8" cy="151.7" r="5.65"/>
<circle cx="1085.2" cy="145.0" r="5.65"/>
<circle cx="1087.6" cy="139.3" r="5.65"/>
<circle cx="1089.9" cy="133.2" r="5.65"/>
<circle cx="1092.3" cy="126.9" r="5.65"/>
<circle cx="1094.7" cy="123.4" r="5.65"/>
<circle cx="1097.1" cy="121.1" r="5.65"/>
<circle cx="1099.5" cy="113.8" r="5.65"/>
</g>
</svg></body></html>
